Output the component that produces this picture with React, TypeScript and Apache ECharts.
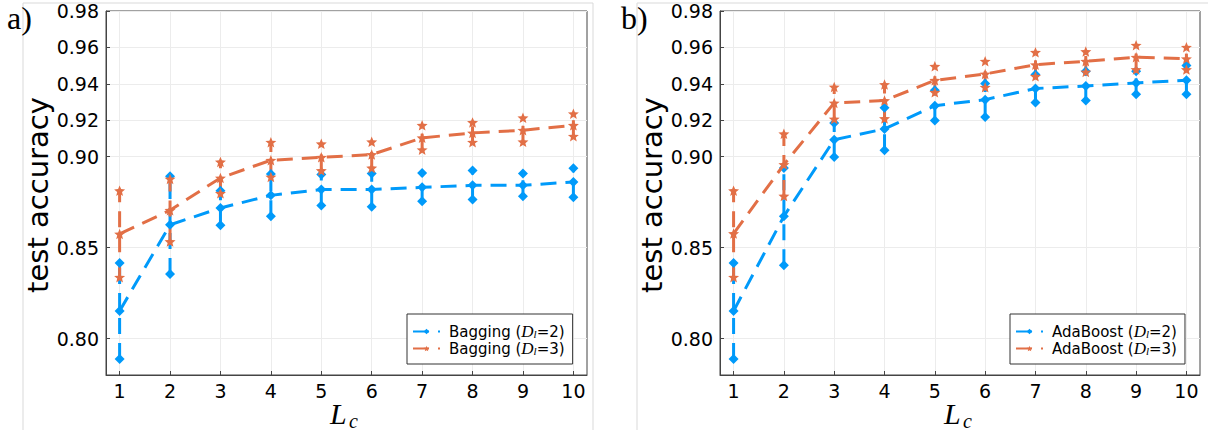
import React, { useEffect, useRef } from 'react';
import * as echarts from 'echarts';

const lc = [1, 2, 3, 4, 5, 6, 7, 8, 9, 10];
const yTicks = [0.8, 0.85, 0.9, 0.92, 0.94, 0.96, 0.98];

const bagD2Mean = [0.8152, 0.8625, 0.8718, 0.8787, 0.8819, 0.8819, 0.8831, 0.8842, 0.8842, 0.8861];
const bagD2Lo = [0.7888, 0.8355, 0.8623, 0.8672, 0.8732, 0.8724, 0.8754, 0.8764, 0.8782, 0.8776];
const bagD2Hi = [0.8416, 0.8892, 0.8813, 0.8905, 0.8901, 0.8907, 0.891, 0.8923, 0.8907, 0.8936];
const bagD3Mean = [0.8575, 0.8705, 0.8883, 0.898, 0.8996, 0.9011, 0.9103, 0.913, 0.9145, 0.9172];
const bagD3Lo = [0.8337, 0.8533, 0.8798, 0.8888, 0.8923, 0.8938, 0.9038, 0.9079, 0.9081, 0.9112];
const bagD3Hi = [0.8813, 0.8877, 0.8971, 0.9079, 0.907, 0.9081, 0.9172, 0.9188, 0.9213, 0.9236];

const adaD2Mean = [0.8152, 0.8672, 0.9093, 0.9152, 0.928, 0.9313, 0.9374, 0.9388, 0.9405, 0.9419];
const adaD2Lo = [0.7888, 0.8403, 0.8998, 0.9035, 0.9198, 0.9218, 0.9297, 0.9308, 0.9342, 0.9342];
const adaD2Hi = [0.8416, 0.8938, 0.9185, 0.9268, 0.9364, 0.9401, 0.9451, 0.9469, 0.9469, 0.95];
const adaD3Mean = [0.8577, 0.8956, 0.9295, 0.9308, 0.9419, 0.9454, 0.9505, 0.9524, 0.9546, 0.9538];
const adaD3Lo = [0.8337, 0.8783, 0.9207, 0.9209, 0.9353, 0.9381, 0.9441, 0.9465, 0.9478, 0.9478];
const adaD3Hi = [0.8813, 0.9125, 0.9383, 0.9396, 0.9496, 0.9524, 0.9573, 0.9577, 0.9612, 0.9601];

const BLUE = '#009AFA';
const ORANGE = '#E26F46';
const STAR =
  'path://M50 0 L62.9 32.2 L97.6 34.5 L70.9 56.8 L79.4 90.5 L50 72 L20.6 90.5 L29.1 56.8 L2.4 34.5 L37.1 32.2 Z';
const DASH = [16, 9];

function seriesFor(
  gi: number,
  name: string,
  color: string,
  symbol: string,
  symbolSize: number | number[],
  mean: number[],
  lo: number[],
  hi: number[]
) {
  return [
    {
      type: 'custom',
      xAxisIndex: gi,
      yAxisIndex: gi,
      silent: true,
      encode: { x: 0, y: [1, 2] },
      data: lc.map((x, i) => [x, lo[i], hi[i]]),
      renderItem: (params: any, api: any) => {
        const x = api.value(0);
        const p1 = api.coord([x, api.value(1)]);
        const p2 = api.coord([x, api.value(2)]);
        return {
          type: 'line',
          shape: { x1: p1[0], y1: p1[1], x2: p2[0], y2: p2[1] },
          style: { stroke: color, lineWidth: 3, lineDash: DASH },
        };
      },
    },
    {
      type: 'scatter',
      xAxisIndex: gi,
      yAxisIndex: gi,
      silent: true,
      symbol,
      symbolSize,
      itemStyle: { color, opacity: 1 },
      data: lc.flatMap((x, i) => [
        [x, lo[i]],
        [x, hi[i]],
      ]),
    },
    {
      type: 'line',
      name,
      xAxisIndex: gi,
      yAxisIndex: gi,
      symbol,
      symbolSize,
      showSymbol: true,
      itemStyle: { color },
      lineStyle: { color, width: 3, type: DASH },
      data: lc.map((x, i) => [x, mean[i]]),
    },
  ];
}

function xAxisFor(gi: number) {
  return {
    type: 'value',
    gridIndex: gi,
    min: 0.73,
    max: 10.27,
    axisLine: { show: true, onZero: false, lineStyle: { color: '#444', width: 1 } },
    axisTick: { show: true, inside: true, length: 4, customValues: lc, lineStyle: { color: '#444' } },
    axisLabel: {
      customValues: lc,
      fontSize: 19,
      fontFamily: 'DejaVu Sans',
      color: '#000',
      margin: 6,
    },
    splitLine: { show: true, lineStyle: { color: '#ececec', width: 1 } },
  };
}

function yAxisFor(gi: number) {
  return {
    type: 'value',
    gridIndex: gi,
    min: 0.78,
    max: 0.98,
    axisLine: { show: true, onZero: false, lineStyle: { color: '#444', width: 1 } },
    axisTick: { show: true, inside: true, length: 4, customValues: yTicks, lineStyle: { color: '#444' } },
    axisLabel: {
      customValues: yTicks,
      formatter: (v: number) => v.toFixed(2),
      fontSize: 19,
      fontFamily: 'DejaVu Sans',
      color: '#000',
      margin: 7,
    },
    splitLine: { show: true, lineStyle: { color: '#ececec', width: 1 } },
  };
}

const legendRich = {
  D: { fontFamily: 'Liberation Serif', fontStyle: 'italic', fontSize: 17, color: '#000' },
  l: {
    fontFamily: 'Liberation Serif',
    fontStyle: 'italic',
    fontSize: 11,
    color: '#000',
    verticalAlign: 'bottom',
    lineHeight: 8,
  },
};

const legendLabels: Record<string, string> = {
  bag2: 'Bagging ({D|D}{l|l}=2)',
  bag3: 'Bagging ({D|D}{l|l}=3)',
  ada2: 'AdaBoost ({D|D}{l|l}=2)',
  ada3: 'AdaBoost ({D|D}{l|l}=3)',
};

function legendFor(left: number, names: string[]) {
  return {
    data: names,
    left,
    top: 314,
    orient: 'vertical',
    itemWidth: 27,
    itemHeight: 7,
    itemGap: 0,
    padding: [9, 8, 7, 5],
    borderColor: '#333',
    borderWidth: 1,
    borderRadius: 0,
    backgroundColor: '#fff',
    selectedMode: false,
    formatter: (n: string) => legendLabels[n],
    textStyle: {
      fontSize: 15,
      fontFamily: 'DejaVu Sans',
      color: '#000',
      lineHeight: 16,
      padding: [0, 0, 0, 4],
      rich: legendRich,
    },
  };
}

function textEl(x: number, y: number, text: string, font: string, extra: any = {}) {
  return {
    type: 'text',
    x,
    y,
    silent: true,
    ...extra,
    style: { text, font, fill: '#000', align: 'left', verticalAlign: 'middle', ...(extra.style || {}) },
  };
}

function frameLine(x1: number, y1: number, x2: number, y2: number) {
  return {
    type: 'line',
    silent: true,
    shape: { x1, y1, x2, y2 },
    style: { stroke: '#d9d9d9', lineWidth: 1 },
  };
}

const PANEL_DX = 614;

function panelGraphics(dx: number, letter: string) {
  return [
    textEl(7 + dx, 18, letter, '32px "Liberation Serif"'),
    {
      type: 'text',
      x: 38 + dx,
      y: 195,
      rotation: Math.PI / 2,
      silent: true,
      style: {
        text: 'test accuracy',
        font: '29px "DejaVu Sans"',
        fill: '#000',
        align: 'center',
        verticalAlign: 'middle',
      },
    },
    textEl(330 + dx, 413, 'L', 'italic 30px "Liberation Serif"'),
    textEl(349 + dx, 421, 'c', 'italic 20px "Liberation Serif"'),
  ];
}

export default function App() {
  const ref = useRef<HTMLDivElement>(null);
  useEffect(() => {
    if (!ref.current) return;
    const chart = echarts.init(ref.current, undefined, { renderer: 'svg' });
    chart.setOption({
      animation: false,
      backgroundColor: '#fff',
      grid: [
        { left: 106, top: 11, width: 481, height: 364, show: true, borderColor: '#444', borderWidth: 1, backgroundColor: 'transparent' },
        { left: 720, top: 11, width: 480, height: 364, show: true, borderColor: '#444', borderWidth: 1, backgroundColor: 'transparent' },
      ],
      xAxis: [xAxisFor(0), xAxisFor(1)],
      yAxis: [yAxisFor(0), yAxisFor(1)],
      legend: [legendFor(407, ['bag2', 'bag3']), legendFor(1010, ['ada2', 'ada3'])],
      series: [
        ...seriesFor(0, 'bag2', BLUE, 'diamond', 10, bagD2Mean, bagD2Lo, bagD2Hi),
        ...seriesFor(0, 'bag3', ORANGE, STAR, [11, 10.5], bagD3Mean, bagD3Lo, bagD3Hi),
        ...seriesFor(1, 'ada2', BLUE, 'diamond', 10, adaD2Mean, adaD2Lo, adaD2Hi),
        ...seriesFor(1, 'ada3', ORANGE, STAR, [11, 10.5], adaD3Mean, adaD3Lo, adaD3Hi),
      ],
      graphic: [
        frameLine(23, 3, 23, 430),
        frameLine(23, 3, 593, 3),
        frameLine(593, 3, 593, 430),
        frameLine(637, 3, 637, 430),
        frameLine(637, 3, 1208, 3),
        ...panelGraphics(0, 'a)'),
        ...panelGraphics(PANEL_DX, 'b)'),
      ],
    });
    return () => chart.dispose();
  }, []);
  return <div ref={ref} style={{ position: 'absolute', left: 0, top: 0, width: 1220, height: 433 }} />;
}
